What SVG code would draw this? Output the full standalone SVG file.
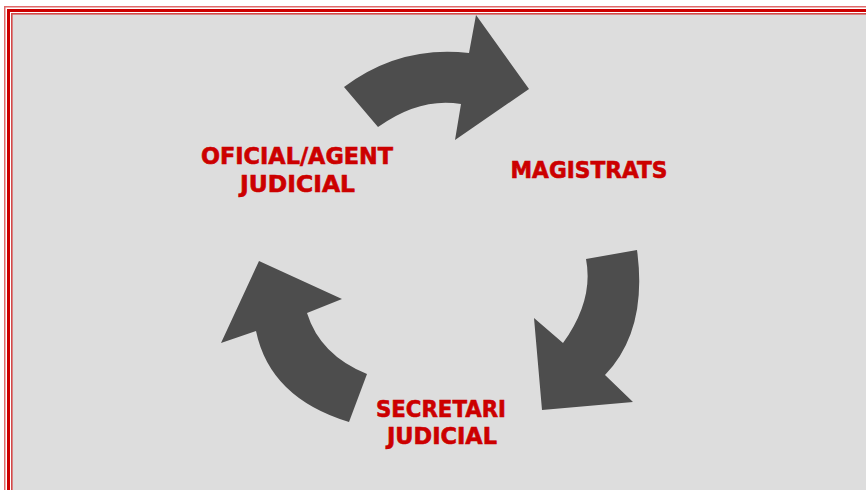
<svg xmlns="http://www.w3.org/2000/svg" width="866" height="490" viewBox="0 0 866 490">
  <style>
    .arrow { fill: #4D4D4D; }
    .label { font-family: "DejaVu Sans", Verdana, sans-serif; font-weight: bold; font-size: 22.5px; fill: #CC0000; stroke: #CC0000; stroke-width: 0.6px; text-anchor: middle; }
  </style>
  <rect x="0" y="0" width="866" height="490" fill="#FFFFFF"/>
  <rect x="12" y="14" width="900" height="520" fill="#DDDDDD"/>
  <g id="frame" fill="none">
    <rect x="4.75" y="6.75" width="900" height="520" stroke="#E06A6A" stroke-width="1.5"/>
    <rect x="8.5" y="10.5" width="900" height="520" stroke="#CC0000" stroke-width="3"/>
    <rect x="11.8" y="13.8" width="900" height="520" stroke="#D44848" stroke-width="1.6"/>
  </g>
  <g id="connectors">
    <path class="arrow" d="M344,87 Q400,45 469,53 L476,15 L529,89 L455,140 L461,104 Q420,97 378,127 Z"/>
    <path class="arrow" d="M586,259 L637,250 Q648,330 605,375 L633,402 L542,410 L534,318 L563,343 Q594,300 586,259 Z"/>
    <path class="arrow" d="M259,261 L342,299 L307,313 Q320,355 367,374 L349,422 Q270,398 256,331 L221,343 Z"/>
  </g>
  <g id="node-magistrats">
    <text class="label" x="589" y="177.5" textLength="157" lengthAdjust="spacingAndGlyphs">MAGISTRATS</text>
  </g>
  <g id="node-oficial">
    <text class="label" x="297" y="164" textLength="192" lengthAdjust="spacingAndGlyphs">OFICIAL/AGENT</text>
    <text class="label" x="297.5" y="192.3" textLength="115" lengthAdjust="spacingAndGlyphs">JUDICIAL</text>
  </g>
  <g id="node-secretari">
    <text class="label" x="441" y="417.3" textLength="130" lengthAdjust="spacingAndGlyphs">SECRETARI</text>
    <text class="label" x="442" y="444.3" textLength="110" lengthAdjust="spacingAndGlyphs">JUDICIAL</text>
  </g>
</svg>
